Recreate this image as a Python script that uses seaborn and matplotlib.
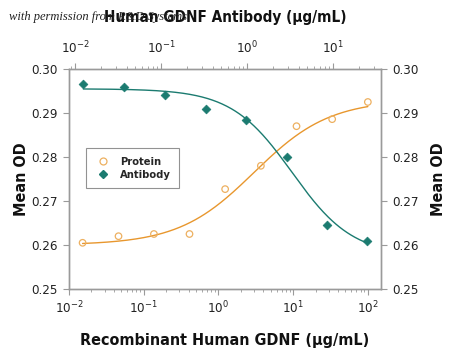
import numpy as np
import pandas as pd
import matplotlib
matplotlib.use("Agg")
import matplotlib.pyplot as plt
import seaborn as sns
from matplotlib.lines import Line2D

# ---- data ----
protein_conc = [0.0152, 0.046, 0.137, 0.41, 1.23, 3.7, 11.1, 33.3, 100.0]
protein_od = [0.2605, 0.2620, 0.2625, 0.2625, 0.2727, 0.2780, 0.2870, 0.2886, 0.2925]
antibody_conc = [0.0125, 0.037, 0.11, 0.33, 0.98, 2.9, 8.6, 25.0]
antibody_od = [0.2966, 0.2960, 0.2940, 0.2910, 0.2885, 0.2800, 0.2645, 0.2610]
# 4-parameter logistic fit parameters (bottom, top, EC50, hill)
protein_fit = (0.2600, 0.2930, 3.0, 0.86)
antibody_fit = (0.2955, 0.2575, 3.35, 1.23)

y_ticks = [0.25, 0.26, 0.27, 0.28, 0.29, 0.30]
y_tick_labels = ["0.25", "0.26", "0.27", "0.28", "0.29", "0.30"]
x_major = [0.01, 0.1, 1, 10, 100]
x_major_labels = [r"$10^{-2}$", r"$10^{-1}$", r"$10^{0}$", r"$10^{1}$", r"$10^{2}$"]

orange = "#E8972E"
orange_light = "#EDB060"
teal = "#1B7B70"
gray = "#9A9A9A"

sns.set_theme(style="ticks")
plt.rcParams["font.family"] = ["DejaVu Sans"]
plt.rcParams["font.stretch"] = "condensed"
plt.rcParams["mathtext.fontset"] = "custom"
plt.rcParams["mathtext.rm"] = "DejaVu Sans:stretch=condensed"
plt.rcParams["mathtext.default"] = "rm"


def logistic(x, p):
    a, d, c, b = p
    return d + (a - d) / (1.0 + (x / c) ** b)


fig = plt.figure(figsize=(4.5, 3.56), dpi=100)
ax = fig.add_axes([69 / 450, 1 - 289 / 356, (381 - 69) / 450, (289 - 69) / 356])
ax_top = ax.twiny()

# protein on bottom axis
xp = np.geomspace(protein_conc[0], protein_conc[-1], 300)
fit_p = pd.DataFrame({"x": xp, "y": logistic(xp, protein_fit)})
sns.lineplot(data=fit_p, x="x", y="y", ax=ax, color=orange, lw=1.0)
dp = pd.DataFrame({"x": protein_conc, "y": protein_od})
sns.scatterplot(data=dp, x="x", y="y", ax=ax, marker="o", s=22,
                facecolor="none", edgecolor=orange_light, linewidth=0.9, zorder=3)

# antibody on top axis
xa = np.geomspace(antibody_conc[0], antibody_conc[-1], 300)
fit_a = pd.DataFrame({"x": xa, "y": logistic(xa, antibody_fit)})
sns.lineplot(data=fit_a, x="x", y="y", ax=ax_top, color=teal, lw=1.0)
da = pd.DataFrame({"x": antibody_conc, "y": antibody_od})
sns.scatterplot(data=da, x="x", y="y", ax=ax_top, marker="D", s=20,
                color=teal, edgecolor=teal, linewidth=0.5, zorder=3)

for a in (ax, ax_top):
    a.set_xscale("log")
    a.set_ylim(0.25, 0.30)
    a.set_xlabel("")
    a.set_ylabel("")
    for s in a.spines.values():
        s.set_color(gray)
        s.set_linewidth(1.0)
        s.set_visible(True)

ax.set_xlim(0.01, 150)
ax_top.set_xlim(10 ** -2.07, 10 ** 1.56)

ax.set_xticks(x_major)
ax.set_xticklabels(x_major_labels)
ax_top.set_xticks(x_major[:4])
ax_top.set_xticklabels(x_major_labels[:4])
ax.set_yticks(y_ticks)
ax.set_yticklabels(y_tick_labels)

tick_kw = dict(colors=gray, labelcolor="#222222", labelsize=9.5, width=0.8)
ax.tick_params(axis="x", which="major", length=4, pad=4, **tick_kw)
ax.tick_params(axis="x", which="minor", length=2, colors=gray, width=0.6)
ax.tick_params(axis="y", which="major", length=4, left=True, right=True,
               labelleft=True, labelright=True, pad=4, **tick_kw)
ax_top.tick_params(axis="x", which="major", length=4, pad=5, **tick_kw)
ax_top.tick_params(axis="x", which="minor", length=2, colors=gray, width=0.6)
ax_top.tick_params(axis="y", left=False, right=False, labelleft=False, labelright=False)

lab_kw = dict(fontsize=11.5, fontweight="bold", color="#111111")
ax.set_xlabel("Recombinant Human GDNF (\u00b5g/mL)", labelpad=12, **lab_kw)
ax.set_ylabel("Mean OD", labelpad=2, **lab_kw)
ax_top.set_xlabel("Human GDNF Antibody (\u00b5g/mL)", fontsize=11, fontweight="bold",
                  color="#111111", labelpad=13)
ax_right = ax.secondary_yaxis("right")
ax_right.set_yticks([])
ax_right.spines["right"].set_visible(False)
ax_right.set_ylabel("Mean OD", labelpad=36, **lab_kw)

# legend
handles = [
    Line2D([], [], ls="none", marker="o", ms=5, mfc="none", mec=orange_light, mew=0.9),
    Line2D([], [], ls="none", marker="D", ms=4.2, mfc=teal, mec=teal),
]
leg = ax_top.legend(handles, ["Protein", "Antibody"], loc="upper left",
                    bbox_to_anchor=(0.055, 0.64), frameon=True, fancybox=False,
                    fontsize=8, borderpad=0.75, handletextpad=0.8, labelspacing=0.3,
                    borderaxespad=0, handlelength=1.5)
leg.get_frame().set_edgecolor("#777777")
leg.get_frame().set_linewidth(0.8)
for t in leg.get_texts():
    t.set_fontweight("bold")

fig.text(0.02, 0.952, "with permission from R&D Systems", fontsize=9,
         style="italic", family=["Liberation Serif", "DejaVu Serif"],
         color="#222222", va="center", ha="left")

fig.savefig("out.png", dpi=100)
